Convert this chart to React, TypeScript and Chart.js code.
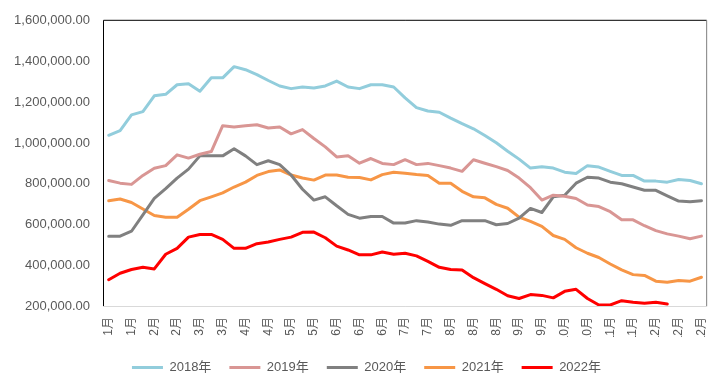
import React, { useEffect, useRef } from "react";
import { Chart, registerables } from "chart.js";

Chart.register(...registerables);

const weekLabels = ["1月","1月","1月","2月","2月","2月","2月","3月","3月","3月","3月","4月","4月","4月","4月","5月","5月","5月","5月","6月","6月","6月","6月","6月","6月","7月","7月","7月","7月","8月","8月","8月","8月","8月","8月","9月","9月","9月","9月","10月","10月","10月","10月","11月","11月","11月","11月","12月","12月","12月","12月","12月","12月"];

const s2018 = [1038000,1061000,1138000,1154000,1232000,1239000,1286000,1291000,1254000,1320000,1320000,1375000,1360000,1336000,1307000,1280000,1267000,1275000,1270000,1280000,1304000,1275000,1267000,1286000,1286000,1275000,1222000,1174000,1157000,1151000,1122000,1095000,1070000,1037000,1001000,960000,921000,877000,884000,877000,857000,850000,889000,882000,861000,841000,841000,813000,813000,808000,821000,816000,800000];
const s2019 = [816000,803000,797000,841000,876000,889000,942000,926000,945000,958000,1085000,1079000,1085000,1090000,1074000,1079000,1045000,1066000,1022000,981000,932000,937000,901000,924000,900000,894000,918000,894000,900000,889000,877000,861000,918000,901000,884000,865000,828000,781000,720000,744000,739000,728000,696000,688000,663000,623000,623000,594000,570000,554000,543000,530000,543000];
const s2020 = [543000,543000,567000,647000,728000,776000,828000,872000,937000,937000,937000,972000,937000,894000,913000,894000,843000,773000,720000,736000,692000,650000,631000,639000,639000,607000,607000,619000,612000,602000,596000,619000,619000,619000,599000,605000,631000,679000,659000,736000,744000,803000,832000,828000,808000,800000,784000,768000,768000,741000,715000,712000,717000];
const s2021 = [717000,725000,708000,676000,644000,636000,636000,675000,717000,736000,755000,784000,808000,841000,860000,868000,843000,828000,818000,843000,843000,832000,831000,819000,845000,857000,852000,845000,841000,803000,803000,763000,736000,731000,699000,680000,636000,615000,591000,546000,527000,486000,459000,438000,406000,377000,354000,350000,322000,317000,325000,322000,341000];
const s2022 = [329000,361000,379000,390000,382000,454000,483000,538000,551000,551000,527000,483000,483000,506000,514000,527000,538000,562000,563000,535000,494000,475000,451000,451000,465000,454000,459000,446000,419000,390000,379000,377000,339000,310000,282000,250000,237000,256000,252000,240000,272000,282000,237000,205000,205000,226000,218000,213000,218000,210000,null,null,null];

const seriesNames = ["2018年", "2019年", "2020年", "2021年", "2022年"];
const seriesColors = ["#92CDDC", "#D99694", "#808080", "#F79646", "#FF0000"];
const seriesData = [s2018, s2019, s2020, s2021, s2022];

const FONT = "'Liberation Sans', 'Noto Sans CJK SC', sans-serif";

const framePlugin = {
  id: "frame",
  afterDatasetsDraw(chart: any) {
    const { ctx, chartArea } = chart;
    const { left, right, top, bottom } = chartArea;
    ctx.save();
    ctx.lineWidth = 1;
    ctx.strokeStyle = "#D9D9D9";
    ctx.beginPath();
    ctx.moveTo(left, bottom + 0.5);
    ctx.lineTo(right, bottom + 0.5);
    ctx.stroke();
    ctx.strokeStyle = "#000000";
    ctx.beginPath();
    ctx.moveTo(left + 0.5, bottom);
    ctx.lineTo(left + 0.5, top - 0.5);
    ctx.lineTo(right - 0.5, top - 0.5);
    ctx.stroke();
    ctx.strokeStyle = "#7F7F7F";
    ctx.beginPath();
    ctx.moveTo(right - 0.5, top - 0.5);
    ctx.lineTo(right - 0.5, bottom);
    ctx.stroke();
    ctx.restore();
  },
};

export default function App() {
  const ref = useRef<HTMLCanvasElement>(null);
  useEffect(() => {
    if (!ref.current) return;
    const chart = new Chart(ref.current, {
      type: "line",
      data: {
        labels: weekLabels,
        datasets: seriesNames.map((name, i) => ({
          label: name,
          data: seriesData[i],
          borderColor: seriesColors[i],
          backgroundColor: seriesColors[i],
          borderWidth: 3,
          pointRadius: 0,
          tension: 0,
          borderJoinStyle: "round" as const,
          borderCapStyle: "round" as const,
          spanGaps: false,
        })),
      },
      options: {
        animation: false,
        responsive: false,
        maintainAspectRatio: false,
        layout: { padding: { left: 6, right: 0, top: 16, bottom: 0 } },
        plugins: {
          tooltip: { enabled: false },
          legend: {
            position: "bottom",
            labels: {
              boxWidth: 31,
              boxHeight: 3,
              padding: 18,
              color: "#595959",
              font: { family: FONT, size: 13 },
              generateLabels: (c: any) =>
                Chart.defaults.plugins.legend.labels.generateLabels(c).map((it: any) => ({ ...it, lineWidth: 0 })),
            },
          },
        },
        scales: {
          x: {
            type: "category",
            offset: true,
            weight: 0,
            grid: { display: false, drawTicks: false },
            border: { display: false },
            ticks: {
              autoSkip: false,
              minRotation: 90,
              maxRotation: 90,
              padding: 11,
              color: "#595959",
              font: { family: FONT, size: 12 },
              callback: function (this: any, value: any, index: number) {
                return index % 2 === 0 ? this.getLabelForValue(value) : "";
              },
            },
            afterFit: (s: any) => {
              s.height = 31;
            },
          },
          xPad: {
            type: "category",
            position: "bottom",
            weight: 10,
            display: true,
            grid: { display: false, drawTicks: false },
            border: { display: false },
            ticks: { display: false },
            afterFit: (s: any) => {
              s.height = 6;
            },
          },
          y: {
            type: "linear",
            min: 200000,
            max: 1600000,
            grid: { display: false, drawTicks: false },
            border: { display: false },
            ticks: {
              stepSize: 200000,
              padding: 13,
              color: "#595959",
              font: { family: FONT, size: 13 },
              callback: (v: any) =>
                Number(v).toLocaleString("en-US", { minimumFractionDigits: 2, maximumFractionDigits: 2 }),
            },
            afterFit: (s: any) => {
              s.width = 97;
            },
          },
          yPad: {
            type: "linear",
            position: "right",
            display: true,
            grid: { display: false, drawTicks: false },
            border: { display: false },
            ticks: { display: false },
            afterFit: (s: any) => {
              s.width = 15;
            },
          },
        },
      },
      plugins: [framePlugin],
    });
    return () => chart.destroy();
  }, []);
  return (
    <div style={{ position: "absolute", left: 0, top: 0, width: 727, height: 384, background: "#fff" }}>
      <canvas ref={ref} width={727} height={384} style={{ display: "block" }} />
    </div>
  );
}
